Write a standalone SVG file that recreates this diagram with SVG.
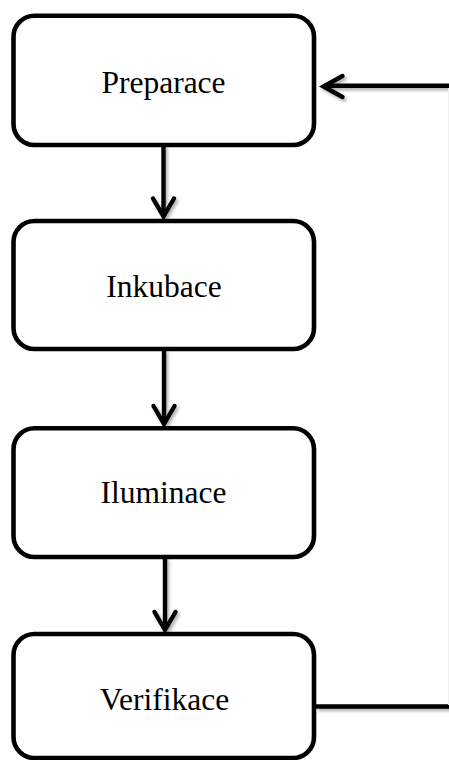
<svg xmlns="http://www.w3.org/2000/svg" width="449" height="760" viewBox="0 0 449 760">
  <style>
    .box { fill: #ffffff; stroke: #000000; stroke-width: 4.6; }
    .label { font-family: "Liberation Serif", "Times New Roman", serif; font-size: 31.5px; fill: #000000; text-anchor: middle; }
    .line { fill: none; stroke: #000000; stroke-width: 4.4; stroke-linecap: butt; stroke-linejoin: miter; }
    .head { fill: none; stroke: #000000; stroke-width: 4.4; stroke-linecap: round; stroke-linejoin: miter; }
  </style>
  <defs>
    <filter id="softShadow" x="-20%" y="-20%" width="140%" height="140%">
      <feDropShadow dx="2" dy="2.5" stdDeviation="1.6" flood-color="#000000" flood-opacity="0.3"/>
    </filter>
  </defs>

  <rect x="0" y="0" width="449" height="760" fill="#ffffff"/>

  <!-- connectors -->
  <g id="connectors" filter="url(#softShadow)">
    <!-- Preparace -> Inkubace -->
    <line class="line" x1="163.5" y1="145" x2="163.5" y2="216"/>
    <polyline class="head" points="153,198.5 163.5,216.5 174,198.5"/>
    <!-- Inkubace -> Iluminace -->
    <line class="line" x1="164" y1="349" x2="164" y2="424"/>
    <polyline class="head" points="153.5,406 164,424 174.5,406"/>
    <!-- Iluminace -> Verifikace -->
    <line class="line" x1="165" y1="557" x2="165" y2="630"/>
    <polyline class="head" points="154.5,612 165,630 175.5,612"/>
    <!-- Verifikace -> back to Preparace -->
    <polyline class="line" points="316,706.5 452,706.5 452,85.8 324,85.8"/>
    <polyline class="head" points="342.5,76 323.5,86.5 342.5,97"/>
  </g>
  <line x1="448.5" y1="88" x2="448.5" y2="705" stroke="#efefef" stroke-width="1"/>

  <!-- nodes -->
  <g id="preparace">
    <rect class="box" x="13.5" y="15.7" width="300.5" height="129.3" rx="21" ry="21"/>
    <text class="label" x="163.5" y="92.7">Preparace</text>
  </g>
  <g id="inkubace">
    <rect class="box" x="13.5" y="221" width="300.5" height="128" rx="21" ry="21"/>
    <text class="label" x="164" y="297">Inkubace</text>
  </g>
  <g id="iluminace">
    <rect class="box" x="13.5" y="428.3" width="300.5" height="128.7" rx="21" ry="21"/>
    <text class="label" x="163.5" y="503.3">Iluminace</text>
  </g>
  <g id="verifikace">
    <rect class="box" x="13.5" y="634" width="300.5" height="124" rx="21" ry="21"/>
    <text class="label" x="164.5" y="710">Verifikace</text>
  </g>
</svg>
